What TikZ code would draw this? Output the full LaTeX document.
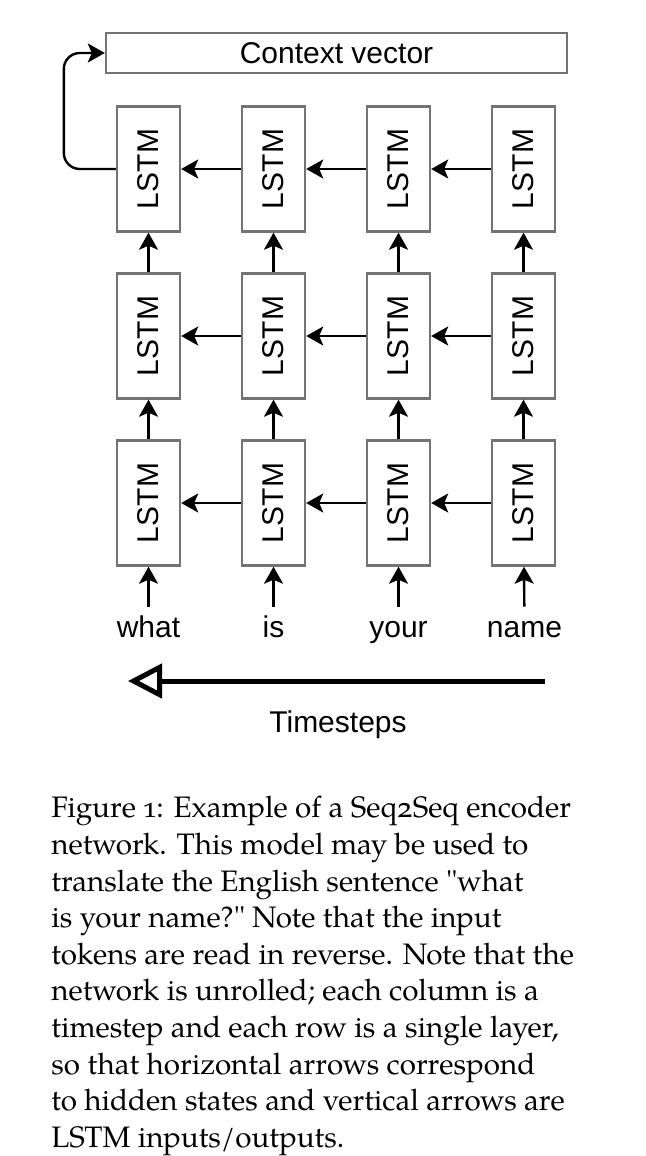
\documentclass[tikz,border=0pt]{standalone}
\usepackage{fontspec}
\setmainfont{Liberation Sans}
\newfontfamily\capfont{texgyrepagella}[Extension=.otf,UprightFont=*-regular,Numbers=OldStyle]
\usetikzlibrary{arrows.meta}

\begin{document}
\begin{tikzpicture}[x=0.5pt,y=-0.5pt]
\tikzset{>={Stealth[length=8.5pt,width=9.5pt,inset=2pt]}}
\tikzstyle{lstm} =[draw=black!55,line width=1.2pt,inner sep=0pt,minimum width=31.5pt,minimum height=62.5pt,font=\fontsize{15}{18}\selectfont]
\tikzstyle{word} =[anchor=base,inner sep=4pt,text height=11pt,text depth=3pt,font=\fontsize{15}{18}\selectfont]
\useasboundingbox (0,0) rectangle (646,1156);

\node[draw=black!55,line width=1.2pt,minimum width=230.5pt,minimum height=20pt,font=\fontsize{15}{18}\selectfont](ctx) at (336.5,53){Context vector};

% top layer
\node[lstm](h11) at (148.5,169){\rotatebox{90}{LSTM}};
\node[lstm](h12) at (273.5,169){\rotatebox{90}{LSTM}};
\node[lstm](h13) at (398.5,169){\rotatebox{90}{LSTM}};
\node[lstm](h14) at (523.5,169){\rotatebox{90}{LSTM}};
% middle layer
\node[lstm](h21) at (148.5,336){\rotatebox{90}{LSTM}};
\node[lstm](h22) at (273.5,336){\rotatebox{90}{LSTM}};
\node[lstm](h23) at (398.5,336){\rotatebox{90}{LSTM}};
\node[lstm](h24) at (523.5,336){\rotatebox{90}{LSTM}};
% bottom layer
\node[lstm](h31) at (148.5,503){\rotatebox{90}{LSTM}};
\node[lstm](h32) at (273.5,503){\rotatebox{90}{LSTM}};
\node[lstm](h33) at (398.5,503){\rotatebox{90}{LSTM}};
\node[lstm](h34) at (523.5,503){\rotatebox{90}{LSTM}};

\node[word](w1) at (148.5,637){what};
\node[word](w2) at (273.5,637){is};
\node[word](w3) at (398.5,637){your};
\node[word](w4) at (524.5,637){name};

% hidden states
\draw [->,very thick] (h12) to (h11);
\draw [->,very thick] (h13) to (h12);
\draw [->,very thick] (h14) to (h13);
\draw [->,very thick] (h22) to (h21);
\draw [->,very thick] (h23) to (h22);
\draw [->,very thick] (h24) to (h23);
\draw [->,very thick] (h32) to (h31);
\draw [->,very thick] (h33) to (h32);
\draw [->,very thick] (h34) to (h33);

% inputs / outputs
\draw [->,very thick] (w1) to (h31);
\draw [->,very thick] (w2) to (h32);
\draw [->,very thick] (w3) to (h33);
\draw [->,very thick] (w4) to (h34);
\draw [->,very thick] (h31) to (h21);
\draw [->,very thick] (h32) to (h22);
\draw [->,very thick] (h33) to (h23);
\draw [->,very thick] (h34) to (h24);
\draw [->,very thick] (h21) to (h11);
\draw [->,very thick] (h22) to (h12);
\draw [->,very thick] (h23) to (h13);
\draw [->,very thick] (h24) to (h14);

\draw [->,very thick,rounded corners=8pt] (h11.west) -- ++(-52,0) |- (ctx.west);

% time axis
\coordinate (tfrom) at (545,681);
\coordinate (tto) at (128,681);
\draw [-{Triangle[open,length=17pt,width=17pt]},line width=2.5pt] (tfrom) -- (tto);
\node[anchor=base,font=\fontsize{15}{18}\selectfont](tlabel) at (338,732){Timesteps};

\node[anchor=north west,inner sep=0pt,align=left,font=\capfont\fontsize{14.8}{18.3}\selectfont](cap) at (51,796){%
Figure 1: Example of a Seq2Seq encoder\\
network. This model may be used to\\
translate the English sentence "what\\
is your name?" Note that the input\\
tokens are read in reverse. Note that the\\
network is unrolled; each column is a\\
timestep and each row is a single layer,\\
so that horizontal arrows correspond\\
to hidden states and vertical arrows are\\
LSTM inputs/outputs.};
\end{tikzpicture}
\end{document}
